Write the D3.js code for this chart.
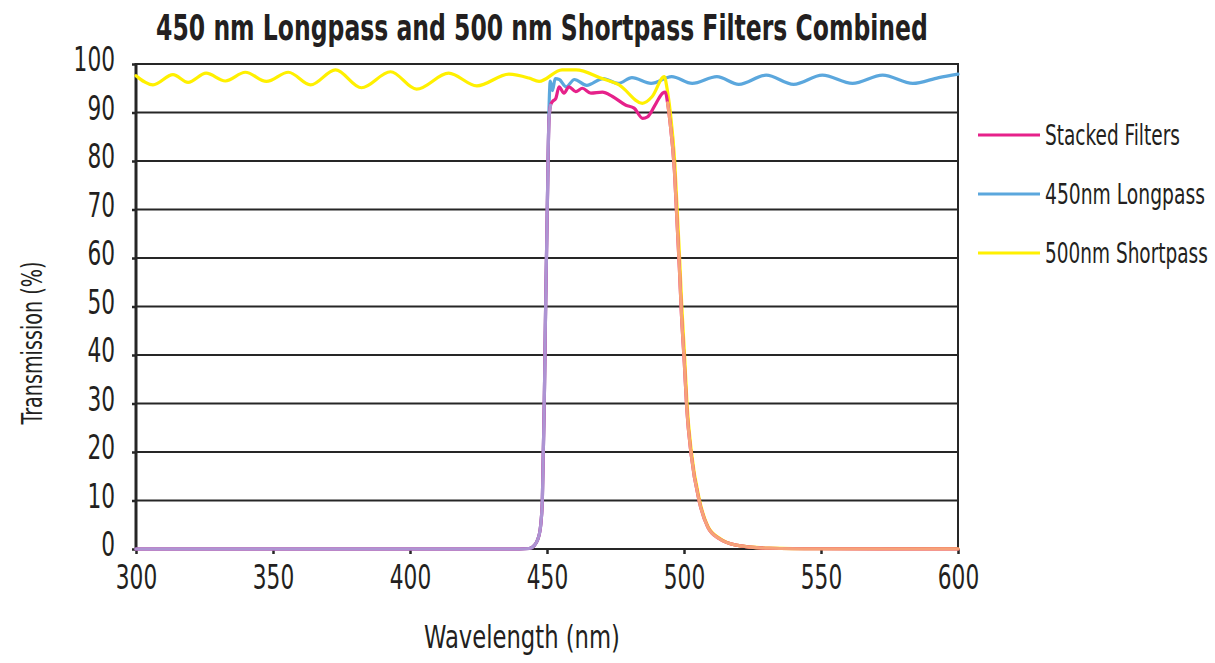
<!DOCTYPE html>
<html>
<head>
<meta charset="utf-8">
<script src="https://cdn.jsdelivr.net/npm/d3@7"></script>
<style>
  html, body { margin: 0; padding: 0; background: #fff; }
  svg { display: block; }
  text { font-family: "Liberation Sans Narrow", "DejaVu Sans Condensed", "Arial Narrow", sans-serif; fill: #231f20; }
</style>
</head>
<body>
<div id="chart"></div>
<script>
  // ---------------------------------------------
  // DATA
  // ---------------------------------------------
  const chartTitle = "450 nm Longpass and 500 nm Shortpass Filters Combined";
  const xTicks = [300, 350, 400, 450, 500, 550, 600];
  const yTicks = [0, 10, 20, 30, 40, 50, 60, 70, 80, 90, 100];
  const seriesNames = ["Stacked Filters", "450nm Longpass", "500nm Shortpass"];

  // 450 nm longpass (blue)
  const longpassNm = [300, 440, 443.5, 445.5, 446.5, 447.5, 448.3, 449, 449.5, 450.1, 450.7, 451.2, 452, 453,
    454.5, 457, 460, 464.5, 470.5, 476, 481, 488, 495.5, 503, 512, 520, 530, 540, 550.5, 561.5, 572.5, 583.5, 593, 600];
  const longpassT = [0, 0, 0.1, 0.8, 1.8, 4, 10, 30, 50, 70, 90, 96.5, 94.5, 97,
    96.8, 95.3, 96.8, 95.6, 97, 96, 97.2, 96, 97.4, 96, 97.4, 95.8, 97.7, 95.8, 97.7, 96, 97.7, 96, 97.2, 97.9];

  // 500 nm shortpass (yellow)
  const shortpassNm = [300, 306.2, 313.5, 319, 325.6, 332.6, 339.9, 347.6, 355.6, 363.7, 372.8, 382.3, 392.9,
    402.4, 414.1, 424.4, 436.1, 443.4, 447.1, 455.5, 460.6, 470.1, 476.3, 484.8, 488.4, 492.8, 493.8, 495,
    496.6, 497.5, 498.4, 499.2, 500.2, 501.1, 502.7, 505.7, 508.8, 513, 519, 531, 549.5, 600];
  const shortpassT = [97.6, 95.7, 97.8, 96.2, 98.1, 96.5, 98.3, 96.4, 98.3, 95.7, 98.8, 95.1, 98.4,
    94.8, 98.1, 95.5, 97.9, 97.1, 96.4, 98.8, 98.8, 97.0, 95.7, 91.9, 93.3, 97.4, 95, 90,
    80, 70, 60, 50, 40, 30, 20, 10, 4.6, 2.2, 0.8, 0.2, 0.08, 0.05];

  // stacked filters (pink)
  const stackedNm = [300, 440, 443.5, 445.5, 446.5, 447.5, 448.3, 449, 449.5, 450.1, 450.7, 451.3, 451.9, 453.2,
    454.4, 456.2, 458, 460.5, 462.9, 466, 470.2, 473.9, 478.8, 481.8, 484.9, 486.7, 489.8, 492.2, 493.2, 494,
    494.9, 496.5, 497.4, 498.3, 499.1, 500.1, 501, 502.6, 505.6, 508.7, 512.9, 519, 531.2, 549.5, 600];
  const stackedT = [0, 0, 0.1, 0.8, 1.8, 4, 10, 30, 50, 70, 88, 91.5, 92.2, 92.9,
    95.3, 94, 95.3, 94.3, 95, 94, 94.2, 93.3, 91.5, 90.9, 88.8, 89.1, 91.9, 94, 94.2, 92,
    88, 78, 68, 58, 48, 38.5, 29, 19.5, 9.7, 4.5, 2.1, 0.8, 0.15, 0.05, 0];

  // ---------------------------------------------
  // LAYOUT / STYLE
  // ---------------------------------------------
  const W = 1215, H = 663;
  const plot = { left: 136, right: 958, top: 64, bottom: 549 };
  const colors = {
    stacked: "#e6218a",
    longpass: "#5ba7dd",
    shortpass: "#fff000",
    overLongpass: "#ad94d3",   // stacked line lying on the longpass edge
    overShortpass: "#f6a27a"   // stacked line lying on the shortpass edge
  };
  const edgeLo = 451.3, edgeHi = 494; // where the stacked curve leaves/joins the single filters
  const digitWidth = 13.8;

  // squeeze a text horizontally to a given width (the original font is a condensed one)
  function fitWidth(sel, widthFn) {
    sel.each(function (d, i) {
      const t = d3.select(this);
      const w = this.getComputedTextLength();
      if (!w) return;
      const s = widthFn(d, i) / w;
      const x0 = +t.attr("x") || 0, y0 = +t.attr("y") || 0;
      t.attr("transform", `translate(${x0},${y0}) scale(${s},1) translate(${-x0},${-y0})`);
    });
  }

  const svg = d3.select("#chart").append("svg").attr("width", W).attr("height", H);

  const x = d3.scaleLinear().domain([300, 600]).range([plot.left, plot.right]);
  const y = d3.scaleLinear().domain([0, 100]).range([plot.bottom, plot.top]);

  // grid lines
  svg.append("g")
    .selectAll("line")
    .data(yTicks)
    .join("line")
    .attr("x1", plot.left).attr("x2", plot.right)
    .attr("y1", d => y(d)).attr("y2", d => y(d))
    .attr("stroke", "#262626")
    .attr("stroke-width", 2.2);

  // left axis + right border
  svg.append("line")
    .attr("x1", plot.left).attr("x2", plot.left)
    .attr("y1", plot.top - 1).attr("y2", plot.bottom + 1)
    .attr("stroke", "#262626").attr("stroke-width", 3);
  svg.append("line")
    .attr("x1", plot.right).attr("x2", plot.right)
    .attr("y1", plot.top - 1).attr("y2", plot.bottom + 1)
    .attr("stroke", "#262626").attr("stroke-width", 2);

  // y axis ticks + labels
  const yAxis = d3.axisLeft(y).tickValues(yTicks).tickSize(4).tickPadding(17);
  const gy = svg.append("g").attr("transform", `translate(${plot.left},0)`).call(yAxis);
  gy.select(".domain").remove();
  gy.selectAll(".tick line").attr("stroke", "#262626").attr("stroke-width", 2.5);
  gy.selectAll(".tick text")
    .attr("font-size", 33)
    .attr("font-family", null)
    .attr("fill", "#231f20")
    .attr("dy", "0.2em")
    .call(fitWidth, d => String(d).length * digitWidth);

  // x axis ticks + labels
  const xAxis = d3.axisBottom(x).tickValues(xTicks).tickSize(5).tickPadding(11);
  const gx = svg.append("g").attr("transform", `translate(0,${plot.bottom})`).call(xAxis);
  gx.select(".domain").remove();
  gx.selectAll(".tick line").attr("stroke", "#262626").attr("stroke-width", 2.5);
  gx.selectAll(".tick text")
    .attr("font-size", 33)
    .attr("font-family", null)
    .attr("fill", "#231f20")
    .attr("dy", "0.72em")
    .call(fitWidth, d => String(d).length * digitWidth);

  // curves
  const line = d3.line()
    .x(d => x(d[0]))
    .y(d => y(d[1]))
    .curve(d3.curveMonotoneX);

  const zip = (a, b) => a.map((v, i) => [v, b[i]]);
  const longpass = zip(longpassNm, longpassT);
  const shortpass = zip(shortpassNm, shortpassT);
  const stacked = zip(stackedNm, stackedT);

  const curves = svg.append("g").attr("fill", "none")
    .attr("stroke-width", 3.2)
    .attr("stroke-linejoin", "round")
    .attr("stroke-linecap", "round");

  curves.append("path").attr("d", line(longpass)).attr("stroke", colors.longpass);
  curves.append("path").attr("d", line(shortpass)).attr("stroke", colors.shortpass);
  curves.append("path").attr("d", line(stacked)).attr("stroke", colors.stacked);
  curves.append("path").attr("d", line(stacked.filter(d => d[0] <= edgeLo))).attr("stroke", colors.overLongpass);
  curves.append("path").attr("d", line(stacked.filter(d => d[0] >= edgeHi))).attr("stroke", colors.overShortpass);

  // title
  svg.append("text")
    .attr("x", 542).attr("y", 40)
    .attr("text-anchor", "middle")
    .attr("font-size", 36)
    .attr("font-weight", "bold")
    .text(chartTitle)
    .call(fitWidth, () => 772);

  // axis titles
  svg.append("text")
    .attr("x", 522).attr("y", 648)
    .attr("text-anchor", "middle")
    .attr("font-size", 32)
    .text("Wavelength (nm)")
    .call(fitWidth, () => 196);

  svg.append("g")
    .attr("transform", "translate(42,343) rotate(-90)")
    .append("text")
    .attr("text-anchor", "middle")
    .attr("font-size", 28)
    .text("Transmission (%)")
    .call(fitWidth, () => 163);

  // legend
  const legendColors = [colors.stacked, colors.longpass, colors.shortpass];
  const legendWidths = [135, 160, 163];
  const legendY = [135, 194, 253];
  const legend = svg.append("g")
    .selectAll("g")
    .data(seriesNames)
    .join("g")
    .attr("transform", (d, i) => `translate(978,${legendY[i]})`);

  legend.append("line")
    .attr("x1", 0).attr("x2", 62)
    .attr("stroke", (d, i) => legendColors[i])
    .attr("stroke-width", 3);

  legend.append("text")
    .attr("x", 67)
    .attr("dy", "0.36em")
    .attr("font-size", 28)
    .text(d => d)
    .call(fitWidth, (d, i) => legendWidths[i]);
</script>
</body>
</html>
